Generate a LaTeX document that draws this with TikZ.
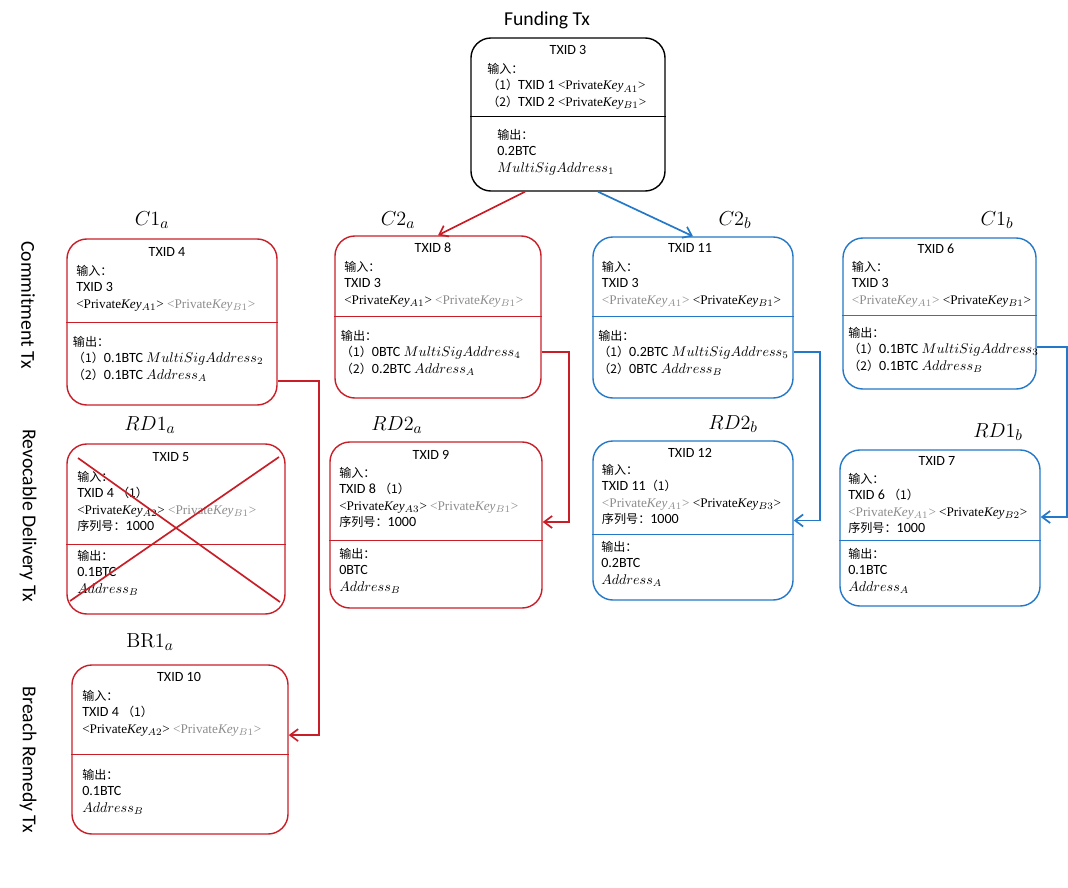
\documentclass[tikz,border=0pt]{standalone}
\usepackage[no-math]{fontspec}
\setmainfont{Carlito}
\newfontfamily\cjk[Scale=0.86]{Noto Sans CJK SC}
\newfontfamily\keyfont{Liberation Serif}
\usetikzlibrary{arrows.meta}

\definecolor{txred}{RGB}{200,30,40}
\definecolor{txblue}{RGB}{35,120,200}

\newcommand{\prvkey}[1]{{\fontsize{9.4}{11.7}\selectfont\keyfont<Private\textit{Key}$_{#1}$>}}
\newcommand{\grykey}[1]{{\color{gray!90}\prvkey{#1}}}
\newcommand{\inlbl}{{\cjk 输入：}}
\newcommand{\outlbl}{{\cjk 输出：}}
\newcommand{\seqlbl}{{\cjk 序列号：}}
\newcommand{\opt}[1]{{\cjk （#1）}}

\begin{document}
\begin{tikzpicture}[x=0.025cm, y=-0.025cm, >={Straight Barb[length=2mm,width=3mm]},
    txbox/.style={draw=#1, rounded corners=0.5cm, line width=1pt, inner sep=0},
    txbody/.style={anchor=north west, align=left, inner sep=0, font=\fontsize{10}{11.7}\selectfont},
    txhead/.style={anchor=base, inner sep=0, font=\fontsize{10}{11.7}\selectfont},
    txtag/.style={font=\fontsize{15}{18}\selectfont},
    sidelbl/.style={rotate=-90, font=\fontsize{14}{16}\selectfont},
    link/.style={->, line width=1.2pt}]
  \useasboundingbox (0,0) rectangle (1068,888);

  % Funding Tx
  \node[font=\fontsize{14}{16}\selectfont] (fundtitle) at (547,20) {Funding Tx};
  \node[txbox=black, minimum width=4.85cm, minimum height=3.825cm] (fund) at (568,114.5) {};
  \draw (fund.west |- 0,116.7) -- (fund.east |- 0,116.7);
  \node[txhead] (fundid) at (568,54) {TXID 3};
  \node[txbody] (fundin) at (487,61.5) {\strut\inlbl\\\opt{1}TXID 1 \prvkey{A1}\\\opt{2}TXID 2 \prvkey{B1}};
  \node[txbody] (fundout) at (497,127.5) {\strut\outlbl\\0.2BTC\\$MultiSigAddress_1$};

  % Commitment Tx
  \node[sidelbl] (sidec) at (28,305) {Commitment Tx};

  \node[txtag] (c1atag) at (152,220) {$C1_a$};
  \node[txbox=txred, minimum width=5.25cm, minimum height=4.15cm] (c1a) at (172,322) {};
  \draw[txred] (c1a.west |- 0,322.7) -- (c1a.east |- 0,322.7);
  \node[txhead] (c1aid) at (167,256) {TXID 4};
  \node[txbody] (c1ain) at (76,263.5) {\strut\inlbl\\TXID 3\\\prvkey{A1} \grykey{B1}};
  \node[txbody] (c1aout) at (72.7,334.5) {\strut\outlbl\\\opt{1}0.1BTC $MultiSigAddress_2$\\\opt{2}0.1BTC $Address_A$};

  \node[txtag] (c2atag) at (398,220) {$C2_a$};
  \node[txbox=txred, minimum width=5.15cm, minimum height=4.05cm] (c2a) at (438,317) {};
  \draw[txred] (c2a.west |- 0,316.7) -- (c2a.east |- 0,316.7);
  \node[txhead] (c2aid) at (433,252) {TXID 8};
  \node[txbody] (c2ain) at (344,259.5) {\strut\inlbl\\TXID 3\\\prvkey{A1} \grykey{B1}};
  \node[txbody] (c2aout) at (340.7,328.5) {\strut\outlbl\\\opt{1}0BTC $MultiSigAddress_4$\\\opt{2}0.2BTC $Address_A$};

  \node[txtag] (c2btag) at (735,220) {$C2_b$};
  \node[txbox=txblue, minimum width=5cm, minimum height=4.025cm] (c2b) at (693,317.5) {};
  \draw[txblue] (c2b.west |- 0,316.7) -- (c2b.east |- 0,316.7);
  \node[txhead] (c2bid) at (690,252) {TXID 11};
  \node[txbody] (c2bin) at (601.7,259.5) {\strut\inlbl\\TXID 3\\\grykey{A1} \prvkey{B1}};
  \node[txbody] (c2bout) at (598,328.5) {\strut\outlbl\\\opt{1}0.2BTC $MultiSigAddress_5$\\\opt{2}0BTC $Address_B$};

  \node[txtag] (c1btag) at (997,220) {$C1_b$};
  \node[txbox=txblue, minimum width=4.825cm, minimum height=3.775cm] (c1b) at (939.5,313.5) {};
  \draw[txblue] (c1b.west |- 0,315) -- (c1b.east |- 0,315);
  \node[txhead] (c1bid) at (936,253) {TXID 6};
  \node[txbody] (c1bin) at (851.7,259.5) {\strut\inlbl\\TXID 3\\\grykey{A1} \prvkey{B1}};
  \node[txbody] (c1bout) at (848,325.5) {\strut\outlbl\\\opt{1}0.1BTC $MultiSigAddress_3$\\\opt{2}0.1BTC $Address_B$};

  % Revocable Delivery Tx
  \node[sidelbl] (sided) at (28,516) {Revocable Delivery Tx};

  \node[txtag] (rd1atag) at (150,425) {$RD1_a$};
  \node[txbox=txred, minimum width=5.45cm, minimum height=4.25cm] (rd1a) at (176,529) {};
  \draw[txred] (rd1a.west |- 0,544) -- (rd1a.east |- 0,544);
  \node[txhead] (rd1aid) at (171,461) {TXID 5};
  \node[txbody] (rd1ain) at (77,469.5) {\strut\inlbl\\TXID 4 \opt{1}\\\prvkey{A2} \grykey{B1}\\\seqlbl 1000};
  \node[txbody] (rd1aout) at (77,548.5) {\strut\outlbl\\0.1BTC\\$Address_B$};
  \draw[txred, line width=1.2pt] (78,458) -- (280,602) (70,601) -- (279,457);

  \node[txtag] (rd2atag) at (397,425) {$RD2_a$};
  \node[txbox=txred, minimum width=5.3cm, minimum height=4.15cm] (rd2a) at (436,525) {};
  \draw[txred] (rd2a.west |- 0,540) -- (rd2a.east |- 0,540);
  \node[txhead] (rd2aid) at (431,459) {TXID 9};
  \node[txbody] (rd2ain) at (339,465.5) {\strut\inlbl\\TXID 8 \opt{1}\\\prvkey{A3} \grykey{B1}\\\seqlbl 1000};
  \node[txbody] (rd2aout) at (339,546.5) {\strut\outlbl\\0BTC\\$Address_B$};

  \node[txtag] (rd2btag) at (733,424) {$RD2_b$};
  \node[txbox=txblue, minimum width=5cm, minimum height=3.975cm] (rd2b) at (693,520.5) {};
  \draw[txblue] (rd2b.west |- 0,534) -- (rd2b.east |- 0,534);
  \node[txhead] (rd2bid) at (690,457) {TXID 12};
  \node[txbody] (rd2bin) at (601.7,462.5) {\strut\inlbl\\TXID 11\opt{1}\\\grykey{A1} \prvkey{B3}\\\seqlbl 1000};
  \node[txbody] (rd2bout) at (601,539.5) {\strut\outlbl\\0.2BTC\\$Address_A$};

  \node[txtag] (rd1btag) at (998,432) {$RD1_b$};
  \node[txbox=txblue, minimum width=5cm, minimum height=3.9cm] (rd1b) at (940,528) {};
  \draw[txblue] (rd1b.west |- 0,540.7) -- (rd1b.east |- 0,540.7);
  \node[txhead] (rd1bid) at (937,465) {TXID 7};
  \node[txbody] (rd1bin) at (848,471.5) {\strut\inlbl\\TXID 6 \opt{1}\\\grykey{A1} \prvkey{B2}\\\seqlbl 1000};
  \node[txbody] (rd1bout) at (848,546.5) {\strut\outlbl\\0.1BTC\\$Address_A$};

  % Breach Remedy Tx
  \node[sidelbl] (sideb) at (28,760) {Breach Remedy Tx};

  \node[txtag] (br1atag) at (150,642) {$\mathrm{BR1}_a$};
  \node[txbox=txred, minimum width=5.4cm, minimum height=4.225cm] (br1a) at (180,749.5) {};
  \draw[txred] (br1a.west |- 0,754) -- (br1a.east |- 0,754);
  \node[txhead] (br1aid) at (179,681) {TXID 10};
  \node[txbody] (br1ain) at (82,688.5) {\strut\inlbl\\TXID 4 \opt{1}\\\prvkey{A2} \grykey{B1}};
  \node[txbody] (br1aout) at (82,767.5) {\strut\outlbl\\0.1BTC\\$Address_B$};

  % Verbindungen
  \draw[link, txred] ([xshift=-1.075cm]fund.south) -- (c2a.north);
  \draw[link, txblue] ([xshift=0.75cm]fund.south) -- (c2b.north);
  \draw[link, txred] ([yshift=-1.475cm]c1a.east) -- ++(41,0) |- ([yshift=0.36cm]br1a.east);
  \draw[link, txred] ([yshift=-0.875cm]c2a.east) -- ++(27,0) |- ([yshift=0.075cm]rd2a.east);
  \draw[link, txblue] ([yshift=-0.8625cm]c2b.east) -- ++(26,0) |- (rd2b.east);
  \draw[link, txblue] ([yshift=-0.8375cm]c1b.east) -- ++(30,0) |- ([yshift=0.275cm]rd1b.east);
\end{tikzpicture}
\end{document}
